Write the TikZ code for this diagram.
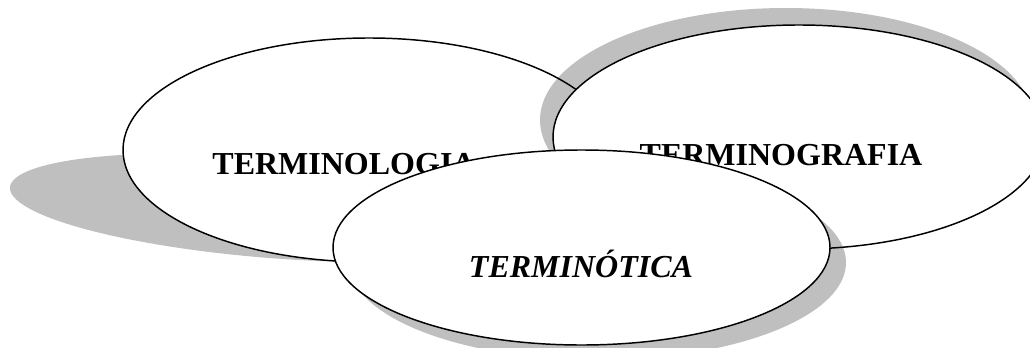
\documentclass[tikz,border=0pt]{standalone}
\usepackage{fontspec}
\setmainfont{Liberation Serif}
\usetikzlibrary{shapes.geometric}
\begin{document}
\begin{tikzpicture}[x=0.75pt,y=0.75pt,
  bubble/.style={ellipse, draw=black, line width=1.1pt, fill=white, inner sep=0pt},
  bubblebig/.style={bubble, minimum width=369pt, minimum height=168pt},
  shadowfill/.style={fill=black, fill opacity=0.25},
  term/.style={font=\bfseries\fontsize{24}{28}\selectfont, inner sep=0pt, anchor=base}]
\useasboundingbox (0,0) rectangle (1030,347);
\clip (0,0) rectangle (1030,347);
% slanted shadow of the left ellipse, hinged at its lowest point
\coordinate (s1) at (369,85);
\begin{scope}[shift={(s1)}, cm={1,0,-0.85,0.485,(0,0)}]
  \fill[shadowfill] (0,112) ellipse [x radius=246, y radius=112];
\end{scope}
\node[bubblebig] (e1) at (369,197) {};
\node[term] (t1) at (344,173) {TERMINOLOGIA};
% offset shadow and ellipse on the right
\fill[shadowfill] (786,227) ellipse [x radius=246, y radius=112];
\node[bubblebig] (e2) at (799,210) {};
\node[term] (t2) at (781,182) {TERMINOGRAFIA};
% offset shadow and ellipse in front
\fill[shadowfill] (597.5,84.5) ellipse [x radius=248.5, y radius=97.5];
\node[bubble, minimum width=372.75pt, minimum height=146.25pt] (e3) at (581.5,99.5) {};
\node[term, font=\bfseries\itshape\fontsize{24}{28}\selectfont] (t3) at (581,70) {TERMINÓTICA};
\end{tikzpicture}
\end{document}
